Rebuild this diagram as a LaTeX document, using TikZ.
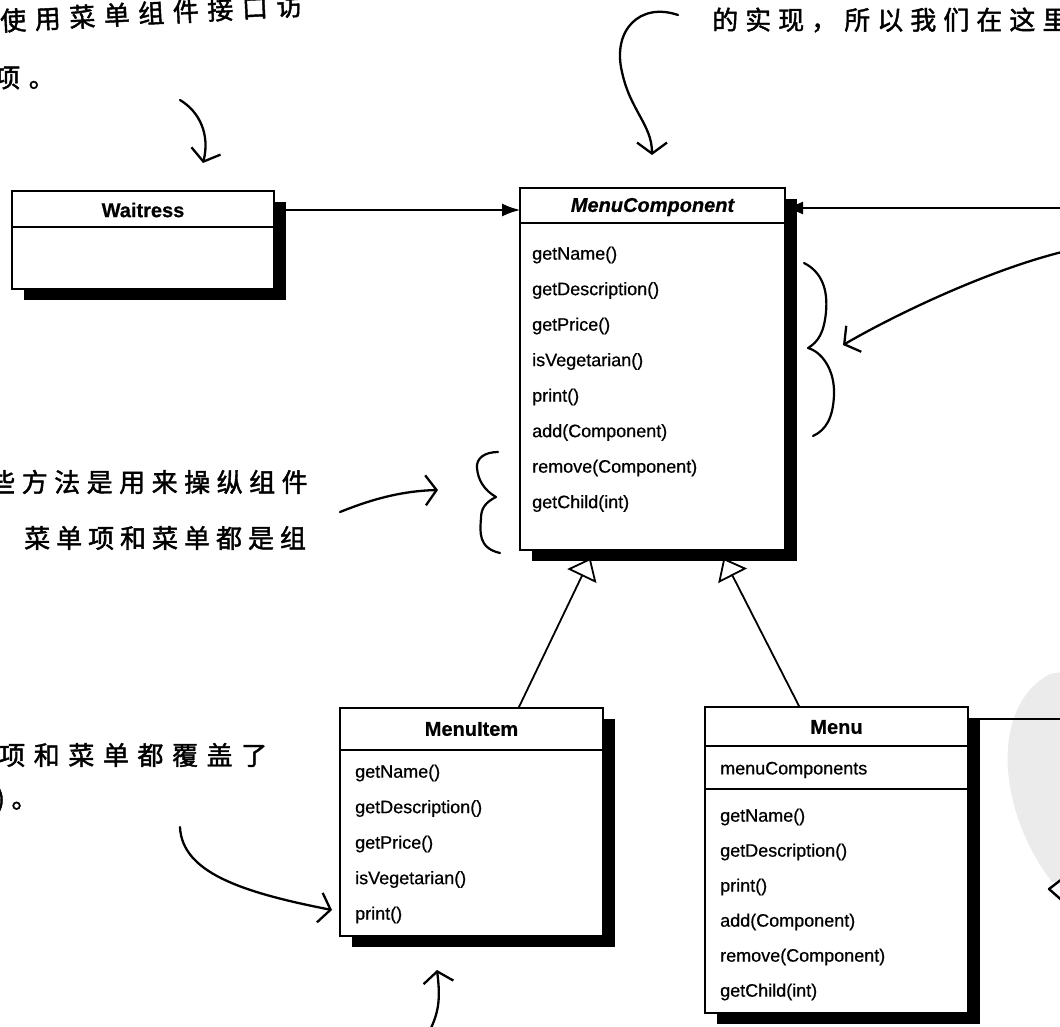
\documentclass[tikz,border=0pt]{standalone}
\usepackage{fontspec}
\setmainfont{Liberation Sans}[FakeBold=0.6]
\newfontfamily\cjk{Noto Sans CJK SC}[FakeBold=1.6]
\usetikzlibrary{arrows.meta,shadows,calc}
\begin{document}
\begin{tikzpicture}[x=1pt,y=-1pt,
  cls/.style={draw=black, line width=1.4pt, fill=white, inner sep=0pt, outer sep=0pt, rectangle,
    drop shadow={shadow xshift=12pt, shadow yshift=-11pt, fill=black, opacity=1}},
  divider/.style={line width=1.2pt},
  hdr/.style={font=\fontsize{20}{22}\selectfont\bfseries, inner sep=0pt},
  meth/.style={font=\fontsize{18}{20}\selectfont, anchor=west, inner sep=0pt},
  cn/.style={font={\cjk\fontsize{26}{28}\selectfont\addfontfeature{LetterSpace=#1}}, anchor=west, inner sep=0pt},
  cn/.default=25,
  assoc/.style={line width=1.6pt, -{Latex[length=18pt,width=13pt]}},
  inherit/.style={line width=1.8pt, -{Triangle[open,length=20pt,width=32pt,fill=white,line width=1.8pt]}},
  hand/.style={line width=2.3pt, line cap=round, -{Straight Barb[length=11pt,width=30pt,line width=2.3pt]}},
  brace/.style={line width=2.2pt, line cap=round, line join=round}
]
\useasboundingbox[fill=white] (0,0) rectangle (1060,1027);

% light gray blob at the right
\fill[gray!16] (1062,672) -- (1050,674) .. controls (1020,690) and (1005,725) .. (1008,770)
  .. controls (1012,820) and (1035,860) .. (1052,882) -- (1062,882) -- cycle;

% ---------- classes ----------
\node[cls, minimum width=262pt, minimum height=98pt] (w) at (143,240) {};
\draw[divider] (w.west |- 0,227) -- (w.east |- 0,227);
\node[hdr] (wT) at (143,210) {Waitress};

\node[cls, minimum width=265pt, minimum height=362pt] (mc) at (652.5,369) {};
\draw[divider] (mc.west |- 0,223) -- (mc.east |- 0,223);
\node[hdr, font=\fontsize{20}{22}\selectfont\bfseries\itshape] (mcT) at (652.5,207) {MenuComponent};
\foreach \t [count=\i] in {getName(),getDescription(),getPrice(),isVegetarian(),print(),add(Component),remove(Component),getChild(int)}
  \node[meth] (mc-\i) at (532,{255+35.5*(\i-1)}) {\t};

\node[cls, minimum width=263pt, minimum height=228pt] (mi) at (471.5,822) {};
\draw[divider] (mi.west |- 0,750) -- (mi.east |- 0,750);
\node[hdr] (miT) at (471.5,729) {MenuItem};
\foreach \t [count=\i] in {getName(),getDescription(),getPrice(),isVegetarian(),print()}
  \node[meth] (mi-\i) at (355,{773+35.5*(\i-1)}) {\t};

\node[cls, minimum width=263pt, minimum height=306pt] (mn) at (836.5,860) {};
\draw[divider] (mn.west |- 0,746) -- (mn.east |- 0,746);
\draw[divider] (mn.west |- 0,789) -- (mn.east |- 0,789);
\node[hdr] (mnT) at (836.5,727) {Menu};
\node[meth] (mnA) at (720,770) {menuComponents};
\foreach \t [count=\i] in {getName(),getDescription(),print(),add(Component),remove(Component),getChild(int)}
  \node[meth] (mn-\i) at (720,{817+35*(\i-1)}) {\t};

% ---------- connectors ----------
\draw[assoc] (w.east |- wT) -- (mc.west |- wT);
\coordinate (rin) at (1062,208);
\draw[assoc] (rin) -- (mc.east |- rin);
\coordinate (rout) at (1062,719);
\draw[line width=1.6pt] (mn.east |- rout) -- (rout);

\draw[inherit] ($(mi.north)+(47,0)$) -- ($(mc.south)+(-62,8)$);
\draw[inherit] ($(mn.north)+(-37,0)$) -- ($(mc.south)+(71,8)$);

% open arrowhead at the right edge
\draw[line width=2.4pt, fill=white, line join=round] (1066,876) -- (1049,889) -- (1066,904);

% ---------- braces ----------
\draw[brace] (804,263) .. controls (822,272) and (828,290) .. (826,312)
  .. controls (824,333) and (818,342) .. (808,348)
  .. controls (822,352) and (835,370) .. (834,395)
  .. controls (833,418) and (826,430) .. (813,436);
\draw[brace] (498,452) .. controls (485,452) and (476,458) .. (477,468)
  .. controls (478,480) and (484,490) .. (496,497)
  .. controls (486,502) and (481,508) .. (481,518)
  .. controls (480,532) and (478,548) .. (500,553);

% ---------- handwritten notes ----------
\node[cn=33, rotate=3] (t1) at (0,21) {使用菜单组件接口访};
\node[cn=33] (t2) at (-6,78) {项。};
\node[cn=27] (t3) at (712,20) {的实现，所以我们在这里};
\node[cn=25] (t4) at (-11,482) {些方法是用来操纵组件};
\node[cn=23] (t5) at (24,538) {菜单项和菜单都是组};
\node[cn=33] (t6) at (-1,755) {项和菜单都覆盖了};
\node[cn=25] (t7) at (-4,800) {)。};

% ---------- hand-drawn arrows ----------
\coordinate (a1s) at (180,100); \coordinate (a1e) at (203,163);
\draw[hand] (a1s) .. controls (200,112) and (210,135) .. (a1e);
\coordinate (a2s) at (678,15); \coordinate (a2e) at (652,155);
\draw[hand] (a2s) .. controls (640,2) and (612,30) .. (622,72) .. controls (630,110) and (652,125) .. (a2e);
\coordinate (a3s) at (1062,252); \coordinate (a3e) at (843,345);
\draw[hand] (a3s) .. controls (990,270) and (900,312) .. (a3e);
\coordinate (a4s) at (340,512); \coordinate (a4e) at (438,490);
\draw[hand] (a4s) .. controls (370,500) and (400,491) .. (a4e);
\coordinate (a5s) at (180,827); \coordinate (a5e) at (332,910);
\draw[hand] (a5s) .. controls (182,872) and (240,892) .. (a5e);
\coordinate (a6s) at (430,1030); \coordinate (a6e) at (437,970);
\draw[hand] (a6s) .. controls (440,1010) and (440,995) .. (a6e);
\end{tikzpicture}
\end{document}
